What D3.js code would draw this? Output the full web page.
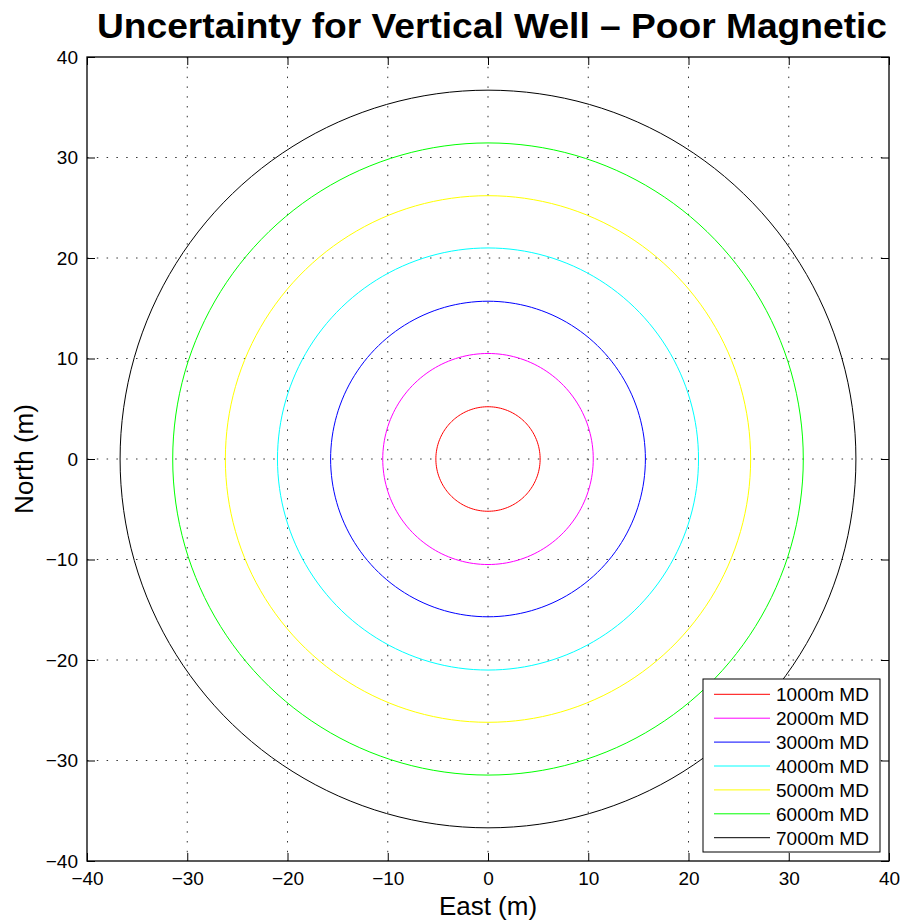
<!DOCTYPE html>
<html><head><meta charset="utf-8">
<script src="https://cdn.jsdelivr.net/npm/d3@7"></script>
<style>body{margin:0;background:#fff}svg{display:block}text{font-family:"Liberation Sans",Arial,Helvetica,sans-serif}</style>
</head><body>
<script>
const depths = ["1000m MD","2000m MD","3000m MD","4000m MD","5000m MD","6000m MD","7000m MD"];
const radii = [5.2, 10.5, 15.7, 21.0, 26.2, 31.45, 36.7];
const colors = ["#ff0000","#ff00ff","#0000ff","#00ffff","#ffff00","#00ff00","#000000"];
const xTicks = [-40,-30,-20,-10,0,10,20,30,40];
const yTicks = [-40,-30,-20,-10,0,10,20,30,40];
const titleText = "Uncertainty for Vertical Well \u2013 Poor Magnetic";

const W=902,H=923;
const L=87,R=889,T=57,B=861;
const svg=d3.select("body").append("svg").attr("width",W).attr("height",H);
const x=d3.scaleLinear().domain([-40,40]).range([L,R]);
const y=d3.scaleLinear().domain([-40,40]).range([B,T]);
const fmt=d=>d<0?"\u2212"+Math.abs(d):String(d);

// grid
const g=svg.append("g");
g.selectAll(".gx").data(xTicks.slice(1,-1)).enter().append("line")
 .attr("x1",d=>x(d)).attr("x2",d=>x(d)).attr("y1",T).attr("y2",B)
 .attr("stroke","#333").attr("stroke-width",1).attr("stroke-dasharray","1.5,8.3");
g.selectAll(".gy").data(yTicks.slice(1,-1)).enter().append("line")
 .attr("y1",d=>y(d)).attr("y2",d=>y(d)).attr("x1",L).attr("x2",R)
 .attr("stroke","#333").attr("stroke-width",1).attr("stroke-dasharray","1.5,8.3");

// circles
const circ=d3.range(0,361,2).map(a=>a*Math.PI/180);
const line=d3.line();
svg.selectAll(".c").data(radii).enter().append("path")
 .attr("d",(r)=>line(circ.map(a=>[x(r*Math.cos(a)),y(r*Math.sin(a))]))+"Z")
 .attr("fill","none").attr("stroke",(d,i)=>colors[i]).attr("stroke-width",1);

// axes with inward ticks
const tl=8;
svg.append("g").attr("transform",`translate(0,${B})`)
 .call(d3.axisBottom(x).tickValues(xTicks).tickFormat(fmt).tickSizeInner(-tl).tickSizeOuter(0).tickPadding(11))
 .call(s=>{s.select(".domain").remove();s.selectAll("text").attr("font-size",19).attr("fill","#000").attr("font-family","Liberation Sans, Arial, sans-serif");});
svg.append("g").attr("transform",`translate(0,${T})`)
 .call(d3.axisTop(x).tickValues(xTicks).tickFormat("").tickSizeInner(-tl).tickSizeOuter(0))
 .call(s=>s.select(".domain").remove());
svg.append("g").attr("transform",`translate(${L},0)`)
 .call(d3.axisLeft(y).tickValues(yTicks).tickFormat(fmt).tickSizeInner(-tl).tickSizeOuter(0).tickPadding(9))
 .call(s=>{s.select(".domain").remove();s.selectAll("text").attr("font-size",19).attr("fill","#000").attr("font-family","Liberation Sans, Arial, sans-serif");});
svg.append("g").attr("transform",`translate(${R},0)`)
 .call(d3.axisRight(y).tickValues(yTicks).tickFormat("").tickSizeInner(-tl).tickSizeOuter(0))
 .call(s=>s.select(".domain").remove());

svg.append("rect").attr("x",L).attr("y",T).attr("width",R-L).attr("height",B-T)
 .attr("fill","none").attr("stroke","#000").attr("stroke-width",1.3);

// labels
svg.append("text").attr("x",(L+R)/2).attr("y",915).attr("text-anchor","middle")
 .attr("font-size",26).text("East (m)");
svg.append("text").attr("transform",`translate(33,${(T+B)/2}) rotate(-90)`).attr("text-anchor","middle")
 .attr("font-size",26).text("North (m)");
svg.append("text").attr("x",492).attr("y",38).attr("text-anchor","middle")
 .attr("font-size",35).attr("font-weight","bold").attr("textLength",790).attr("lengthAdjust","spacingAndGlyphs").text(titleText);

// legend
const lg=svg.append("g");
lg.append("rect").attr("x",703).attr("y",679).attr("width",177).attr("height",173)
 .attr("fill","#fff").attr("stroke","#000").attr("stroke-width",1);
const rows=lg.selectAll(".r").data(depths).enter().append("g")
 .attr("transform",(d,i)=>`translate(0,${694.3+i*23.9})`);
rows.append("line").attr("x1",714).attr("x2",770).attr("y1",0).attr("y2",0)
 .attr("stroke",(d,i)=>colors[i]).attr("stroke-width",1);
rows.append("text").attr("x",776).attr("y",7).attr("font-size",19).text(d=>d);
</script>
</body></html>
